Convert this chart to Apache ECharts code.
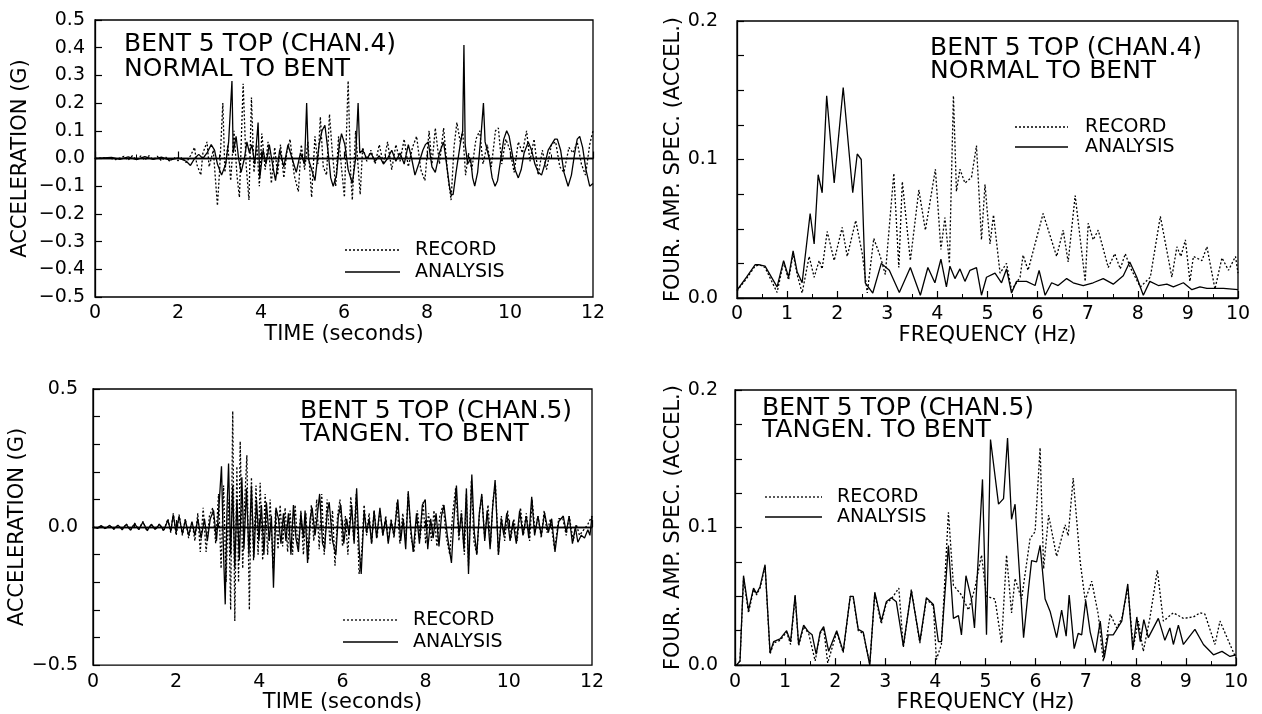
<!DOCTYPE html>
<html>
<head>
<meta charset="utf-8">
<script src="https://cdn.jsdelivr.net/npm/echarts@6/dist/echarts.min.js"></script>
<style>
  html, body { margin: 0; padding: 0; background: #fff; }
  #chart { width: 1262px; height: 714px; }
</style>
</head>
<body>
<div id="chart"></div>
<script>
// [time s, accel g]
var chan4Record = [[0,0],[0.3,0.003],[0.5,-0.004],[0.7,0.008],[0.8,-0.006],[0.9,0.01],[1.0,-0.005],[1.1,0.009],[1.2,-0.006],[1.3,0.01],[1.4,-0.004],[1.5,0.008],[1.6,-0.008],[1.7,0.006],[1.8,-0.01],[1.9,0.004],[2.0,-0.008],[2.1,0.005],[2.2,-0.015],[2.3,0.01],[2.4,0.04],[2.45,-0.02],[2.55,-0.06],[2.6,0.02],[2.7,0.06],[2.75,-0.03],[2.85,0.03],[2.95,-0.17],[3.0,-0.05],[3.08,0.2],[3.13,-0.05],[3.2,0.05],[3.27,-0.08],[3.35,0.1],[3.42,-0.06],[3.48,-0.14],[3.57,0.27],[3.64,-0.02],[3.71,-0.15],[3.77,0.22],[3.83,-0.05],[3.9,0.05],[3.96,-0.1],[4.02,0.09],[4.1,-0.04],[4.17,0.06],[4.25,-0.09],[4.33,0.04],[4.4,-0.06],[4.47,0.05],[4.55,-0.07],[4.62,0.02],[4.7,0.07],[4.8,-0.06],[4.9,-0.12],[4.97,0.05],[5.05,-0.04],[5.13,0.06],[5.22,-0.14],[5.3,0.08],[5.37,-0.02],[5.43,0.15],[5.5,-0.03],[5.58,-0.06],[5.65,0.16],[5.72,0.02],[5.8,-0.1],[5.87,0.08],[5.95,-0.05],[6.01,-0.14],[6.1,0.28],[6.16,-0.05],[6.2,-0.15],[6.28,0.1],[6.35,-0.05],[6.39,-0.13],[6.45,0.04],[6.55,-0.01],[6.65,0.03],[6.75,-0.02],[6.85,0.05],[6.95,-0.02],[7.05,0.06],[7.15,-0.04],[7.25,0.05],[7.35,-0.01],[7.45,0.07],[7.55,-0.03],[7.65,0.04],[7.75,0.08],[7.85,-0.04],[7.95,-0.08],[8.05,0.1],[8.12,-0.02],[8.2,0.11],[8.3,-0.02],[8.4,0.11],[8.5,-0.06],[8.58,-0.15],[8.65,0.04],[8.72,0.13],[8.8,0.06],[8.86,0.1],[8.93,-0.06],[9.0,0.02],[9.08,-0.04],[9.18,0.07],[9.27,0.1],[9.35,-0.02],[9.45,0.05],[9.55,-0.03],[9.65,0.1],[9.72,0.11],[9.8,-0.02],[9.9,0.07],[10.0,0.03],[10.1,-0.05],[10.2,0.06],[10.3,0.02],[10.4,0.1],[10.48,-0.01],[10.58,0.07],[10.68,-0.06],[10.78,0.03],[10.88,-0.04],[11.0,0.05],[11.1,0.06],[11.2,-0.03],[11.3,-0.05],[11.42,0.04],[11.52,0.02],[11.62,0.06],[11.72,-0.02],[11.82,-0.06],[11.92,0.05],[12.0,0.1]];
var chan4Analysis = [[0,0],[0.4,0.004],[0.6,-0.003],[0.8,0.006],[1.0,-0.004],[1.2,0.007],[1.4,-0.003],[1.6,0.005],[1.8,-0.006],[2.0,0.002],[2.2,-0.01],[2.3,-0.025],[2.4,0.0],[2.5,0.015],[2.6,0.0],[2.7,0.02],[2.8,0.05],[2.88,0.03],[2.95,-0.02],[3.05,-0.06],[3.15,-0.02],[3.22,0.06],[3.3,0.28],[3.33,0.02],[3.4,0.08],[3.46,0.0],[3.52,-0.05],[3.6,0.0],[3.66,0.06],[3.72,0.02],[3.78,0.05],[3.85,-0.02],[3.93,0.13],[3.97,-0.07],[4.05,0.03],[4.12,-0.02],[4.2,0.05],[4.3,-0.04],[4.35,-0.08],[4.45,0.03],[4.55,-0.03],[4.65,0.05],[4.75,0.0],[4.85,-0.05],[4.95,0.02],[5.05,-0.02],[5.1,0.2],[5.14,0.0],[5.2,-0.03],[5.3,-0.08],[5.4,0.05],[5.47,0.1],[5.54,0.12],[5.62,0.02],[5.68,-0.07],[5.74,-0.1],[5.82,-0.06],[5.88,0.04],[5.94,0.09],[6.02,0.05],[6.1,-0.04],[6.2,-0.09],[6.28,0.0],[6.34,0.2],[6.38,0.02],[6.45,0.03],[6.55,0.0],[6.65,0.02],[6.75,-0.01],[6.85,0.01],[6.95,-0.02],[7.05,0.0],[7.15,0.03],[7.25,-0.01],[7.35,0.02],[7.45,-0.02],[7.55,0.05],[7.63,0.0],[7.71,-0.06],[7.8,-0.02],[7.9,0.03],[7.96,0.05],[8.03,0.06],[8.12,-0.03],[8.2,-0.05],[8.3,0.02],[8.4,0.06],[8.48,-0.03],[8.54,-0.1],[8.58,-0.13],[8.63,-0.13],[8.7,-0.05],[8.8,0.05],[8.86,0.1],[8.89,0.41],[8.92,0.05],[8.98,-0.02],[9.05,0.0],[9.1,-0.07],[9.15,-0.1],[9.22,-0.05],[9.3,0.08],[9.36,0.2],[9.4,0.06],[9.5,0.0],[9.57,-0.07],[9.64,-0.1],[9.7,-0.08],[9.78,0.0],[9.85,0.07],[9.92,0.1],[9.98,0.08],[10.05,0.02],[10.12,-0.04],[10.2,-0.07],[10.27,-0.04],[10.34,0.02],[10.44,0.06],[10.52,0.03],[10.6,-0.02],[10.68,-0.05],[10.76,-0.06],[10.84,-0.02],[10.92,0.03],[11.0,0.05],[11.08,0.07],[11.14,0.07],[11.22,0.03],[11.3,-0.05],[11.4,-0.1],[11.48,-0.06],[11.56,0.02],[11.62,0.07],[11.68,0.08],[11.75,0.04],[11.83,-0.04],[11.92,-0.1],[12.0,-0.09]];

// [freq Hz, amplitude]
var spec4Record = [[0,0.005],[0.19,0.014],[0.36,0.023],[0.45,0.024],[0.56,0.022],[0.8,0.004],[0.93,0.026],[1.03,0.013],[1.12,0.032],[1.2,0.017],[1.3,0.0036],[1.44,0.03],[1.54,0.015],[1.64,0.027],[1.7,0.021],[1.8,0.048],[1.94,0.027],[2.1,0.051],[2.2,0.03],[2.37,0.056],[2.5,0.032],[2.6,0.0036],[2.73,0.043],[2.86,0.03],[2.96,0.017],[3.13,0.09],[3.23,0.022],[3.3,0.084],[3.46,0.027],[3.63,0.078],[3.76,0.049],[3.96,0.093],[4.07,0.035],[4.15,0.058],[4.24,0.025],[4.32,0.146],[4.38,0.077],[4.45,0.093],[4.55,0.083],[4.68,0.087],[4.78,0.11],[4.88,0.042],[4.95,0.082],[5.05,0.039],[5.12,0.06],[5.25,0.018],[5.38,0.025],[5.48,0.0056],[5.65,0.015],[5.71,0.031],[5.81,0.02],[6.11,0.061],[6.38,0.03],[6.51,0.049],[6.61,0.026],[6.75,0.074],[6.95,0.012],[7.01,0.054],[7.11,0.042],[7.21,0.049],[7.41,0.022],[7.54,0.032],[7.65,0.021],[7.75,0.032],[7.85,0.022],[8.05,0.008],[8.25,0.015],[8.45,0.059],[8.68,0.015],[8.78,0.037],[8.86,0.03],[8.95,0.042],[9.04,0.012],[9.11,0.03],[9.28,0.027],[9.38,0.037],[9.54,0.0065],[9.68,0.029],[9.81,0.02],[9.95,0.03],[10.0,0.018]];
var spec4Analysis = [[0,0.0056],[0.19,0.015],[0.36,0.024],[0.45,0.024],[0.56,0.023],[0.8,0.008],[0.93,0.027],[1.03,0.015],[1.12,0.034],[1.2,0.019],[1.3,0.011],[1.46,0.061],[1.54,0.039],[1.62,0.089],[1.7,0.076],[1.79,0.146],[1.94,0.083],[2.12,0.152],[2.31,0.076],[2.4,0.104],[2.48,0.1],[2.56,0.011],[2.71,0.0036],[2.88,0.025],[3.04,0.02],[3.24,0.004],[3.46,0.022],[3.66,0.002],[3.81,0.022],[3.95,0.011],[4.07,0.028],[4.18,0.008],[4.25,0.023],[4.35,0.014],[4.45,0.021],[4.55,0.012],[4.65,0.02],[4.78,0.022],[4.88,0.002],[4.98,0.015],[5.15,0.018],[5.28,0.011],[5.38,0.021],[5.48,0.0036],[5.58,0.012],[5.78,0.012],[5.95,0.009],[6.03,0.02],[6.15,0.002],[6.28,0.011],[6.41,0.009],[6.58,0.014],[6.71,0.011],[6.91,0.009],[7.11,0.011],[7.31,0.014],[7.51,0.01],[7.71,0.016],[7.84,0.026],[7.98,0.015],[8.11,0.002],[8.24,0.012],[8.41,0.009],[8.58,0.01],[8.71,0.008],[8.91,0.011],[9.08,0.006],[9.24,0.008],[9.38,0.007],[9.71,0.007],[10.0,0.006]];

var chan5Record = [[0,0],[0.1,-0.005],[0.2,0.004],[0.3,-0.006],[0.4,0.005],[0.5,-0.008],[0.6,0.006],[0.7,-0.01],[0.8,0.012],[0.9,-0.012],[1.0,0.014],[1.1,-0.01],[1.2,0.02],[1.3,-0.015],[1.4,0.01],[1.5,-0.01],[1.6,0.012],[1.7,-0.015],[1.8,0.03],[1.87,-0.02],[1.93,0.05],[2.0,-0.03],[2.07,0.045],[2.15,-0.03],[2.22,0.03],[2.3,-0.04],[2.38,0.02],[2.45,-0.05],[2.52,0.05],[2.58,-0.09],[2.65,0.07],[2.72,-0.09],[2.8,0.04],[2.88,0.07],[2.95,-0.06],[3.02,0.12],[3.08,-0.15],[3.14,0.15],[3.2,-0.2],[3.26,0.1],[3.31,-0.3],[3.36,0.42],[3.41,-0.34],[3.46,0.22],[3.5,-0.2],[3.54,0.31],[3.6,-0.15],[3.65,0.1],[3.7,0.26],[3.76,-0.3],[3.81,0.18],[3.86,-0.12],[3.92,0.15],[3.97,-0.1],[4.02,0.16],[4.08,-0.12],[4.14,0.12],[4.2,-0.1],[4.26,0.1],[4.33,-0.15],[4.39,0.06],[4.45,-0.08],[4.5,0.08],[4.56,-0.07],[4.62,0.07],[4.68,-0.09],[4.74,0.06],[4.8,-0.1],[4.86,0.08],[4.93,-0.08],[5.0,0.06],[5.06,-0.1],[5.12,0.05],[5.18,-0.12],[5.25,0.08],[5.31,-0.05],[5.38,0.1],[5.44,-0.08],[5.5,0.12],[5.56,-0.1],[5.63,0.1],[5.7,-0.06],[5.76,0.06],[5.82,-0.14],[5.88,0.04],[5.94,0.1],[6.0,-0.07],[6.07,0.04],[6.13,-0.1],[6.2,0.11],[6.27,-0.05],[6.33,0.12],[6.4,-0.17],[6.46,-0.1],[6.52,0.08],[6.58,-0.03],[6.64,0.05],[6.7,-0.06],[6.76,0.06],[6.83,-0.04],[6.9,0.06],[6.97,-0.03],[7.04,0.04],[7.1,-0.05],[7.17,0.03],[7.24,-0.04],[7.31,0.09],[7.38,-0.06],[7.45,0.05],[7.52,-0.05],[7.58,0.12],[7.65,-0.04],[7.72,-0.09],[7.8,0.06],[7.87,-0.04],[7.94,0.09],[8.0,-0.06],[8.07,0.05],[8.14,-0.05],[8.2,0.06],[8.27,-0.07],[8.34,0.04],[8.42,0.08],[8.5,-0.04],[8.58,-0.1],[8.65,0.05],[8.72,0.14],[8.8,-0.05],[8.86,0.06],[8.93,-0.1],[8.98,0.12],[9.03,-0.14],[9.1,0.17],[9.16,-0.05],[9.23,-0.1],[9.3,0.06],[9.35,0.11],[9.42,-0.04],[9.5,0.08],[9.56,-0.06],[9.62,0.1],[9.68,0.15],[9.75,-0.1],[9.82,0.04],[9.9,-0.05],[9.97,0.06],[10.05,-0.04],[10.12,0.03],[10.2,-0.05],[10.28,0.07],[10.35,-0.03],[10.42,0.05],[10.5,-0.05],[10.56,0.1],[10.63,-0.02],[10.7,0.04],[10.78,-0.04],[10.85,0.06],[10.92,-0.02],[11.0,0.03],[11.1,-0.08],[11.2,0.03],[11.3,0.03],[11.38,-0.03],[11.45,0.04],[11.55,-0.05],[11.62,0.01],[11.7,-0.03],[11.8,-0.01],[11.9,0.01],[12.0,0.04]];
var chan5Analysis = [[0,0],[0.1,-0.004],[0.2,0.005],[0.3,-0.005],[0.4,0.006],[0.5,-0.007],[0.6,0.007],[0.7,-0.009],[0.8,0.01],[0.9,-0.011],[1.0,0.012],[1.1,-0.009],[1.2,0.018],[1.3,-0.012],[1.4,0.01],[1.5,-0.008],[1.6,0.01],[1.7,-0.012],[1.8,0.025],[1.87,-0.015],[1.93,0.045],[2.0,-0.02],[2.07,0.04],[2.15,-0.025],[2.22,0.025],[2.3,-0.03],[2.38,0.02],[2.45,-0.03],[2.52,0.03],[2.6,-0.04],[2.68,0.03],[2.75,-0.05],[2.82,0.03],[2.9,0.06],[2.97,-0.05],[3.04,0.1],[3.09,0.22],[3.14,-0.1],[3.18,-0.28],[3.22,0.05],[3.26,0.23],[3.31,-0.1],[3.36,0.15],[3.41,-0.15],[3.46,0.1],[3.52,-0.12],[3.58,0.18],[3.63,-0.08],[3.69,0.14],[3.75,-0.1],[3.81,0.15],[3.87,-0.11],[3.93,0.1],[3.99,-0.05],[4.05,0.08],[4.11,-0.1],[4.17,0.09],[4.24,-0.05],[4.29,0.04],[4.34,-0.22],[4.4,0.07],[4.46,0.03],[4.52,-0.06],[4.58,0.05],[4.64,-0.05],[4.7,0.05],[4.76,-0.1],[4.82,0.08],[4.88,-0.04],[4.94,-0.09],[5.0,0.05],[5.06,-0.04],[5.1,0.06],[5.16,-0.13],[5.22,0.03],[5.27,0.07],[5.34,-0.03],[5.4,0.05],[5.45,0.12],[5.52,-0.06],[5.57,-0.08],[5.63,0.05],[5.68,0.09],[5.76,-0.05],[5.84,-0.1],[5.9,0.04],[5.96,0.08],[6.03,-0.06],[6.1,0.03],[6.16,-0.03],[6.22,0.08],[6.28,-0.06],[6.34,0.14],[6.4,-0.08],[6.45,-0.17],[6.52,0.06],[6.58,-0.02],[6.64,0.03],[6.7,-0.06],[6.76,0.06],[6.82,-0.04],[6.9,0.07],[6.97,-0.03],[7.04,0.03],[7.1,-0.06],[7.17,0.02],[7.24,-0.03],[7.33,0.1],[7.4,-0.05],[7.46,0.03],[7.52,-0.08],[7.58,0.13],[7.64,0.0],[7.7,-0.09],[7.78,0.05],[7.85,-0.06],[7.92,0.08],[7.99,0.1],[8.05,-0.08],[8.12,0.03],[8.18,-0.04],[8.25,0.05],[8.32,-0.07],[8.38,0.04],[8.44,0.08],[8.52,-0.03],[8.62,-0.13],[8.68,0.03],[8.74,0.15],[8.8,-0.03],[8.86,0.05],[8.92,-0.08],[8.98,0.14],[9.03,-0.17],[9.11,0.19],[9.17,-0.02],[9.23,-0.1],[9.29,0.05],[9.35,0.12],[9.42,-0.05],[9.48,0.06],[9.55,-0.08],[9.61,0.07],[9.67,0.17],[9.75,-0.1],[9.82,0.03],[9.88,-0.03],[9.95,0.05],[10.03,-0.05],[10.1,0.02],[10.18,-0.06],[10.26,0.06],[10.34,-0.03],[10.42,0.04],[10.48,-0.04],[10.55,0.11],[10.62,-0.03],[10.7,0.04],[10.78,-0.03],[10.86,0.05],[10.95,-0.02],[11.03,0.03],[11.11,-0.09],[11.2,0.02],[11.31,0.04],[11.38,-0.02],[11.45,0.04],[11.53,-0.06],[11.6,0.0],[11.66,-0.055],[11.74,-0.03],[11.82,-0.04],[11.9,-0.01],[11.95,-0.03],[12.0,0.04]];

var spec5Record = [[0.03,0],[0.1,0.003],[0.17,0.063],[0.27,0.038],[0.37,0.055],[0.43,0.051],[0.5,0.056],[0.6,0.072],[0.7,0.008],[0.77,0.016],[0.9,0.018],[1.03,0.024],[1.11,0.015],[1.2,0.05],[1.27,0.014],[1.37,0.028],[1.47,0.023],[1.6,0.003],[1.7,0.023],[1.77,0.027],[1.85,0.0015],[2.03,0.024],[2.16,0.009],[2.3,0.05],[2.36,0.049],[2.46,0.025],[2.56,0.023],[2.69,0.001],[2.79,0.052],[2.92,0.03],[3.02,0.045],[3.12,0.048],[3.27,0.056],[3.36,0.013],[3.52,0.055],[3.69,0.016],[3.82,0.048],[3.96,0.043],[4.02,0.004],[4.12,0.015],[4.26,0.111],[4.36,0.058],[4.52,0.051],[4.66,0.04],[4.79,0.056],[4.92,0.08],[5.02,0.05],[5.19,0.048],[5.32,0.016],[5.42,0.08],[5.52,0.038],[5.59,0.063],[5.72,0.048],[5.89,0.092],[5.99,0.097],[6.09,0.158],[6.16,0.07],[6.26,0.109],[6.42,0.079],[6.59,0.102],[6.65,0.094],[6.75,0.136],[6.89,0.075],[6.99,0.047],[7.12,0.061],[7.25,0.037],[7.35,0.0026],[7.49,0.037],[7.62,0.027],[7.72,0.034],[7.84,0.056],[7.95,0.013],[8.05,0.032],[8.15,0.01],[8.28,0.034],[8.43,0.069],[8.55,0.032],[8.75,0.038],[8.95,0.034],[9.15,0.035],[9.28,0.038],[9.38,0.037],[9.58,0.015],[9.68,0.032],[9.88,0.015],[10.0,0.005]];
var spec5Analysis = [[0.03,0],[0.1,0.003],[0.17,0.065],[0.27,0.04],[0.37,0.056],[0.43,0.052],[0.5,0.057],[0.6,0.073],[0.7,0.009],[0.77,0.017],[0.9,0.019],[1.03,0.025],[1.11,0.017],[1.2,0.051],[1.27,0.015],[1.37,0.029],[1.47,0.024],[1.54,0.022],[1.62,0.008],[1.7,0.024],[1.77,0.028],[1.87,0.01],[2.03,0.025],[2.16,0.01],[2.3,0.05],[2.36,0.05],[2.46,0.026],[2.56,0.024],[2.69,0.0],[2.79,0.053],[2.92,0.032],[3.02,0.046],[3.12,0.049],[3.22,0.046],[3.36,0.014],[3.52,0.054],[3.69,0.017],[3.82,0.049],[3.96,0.044],[4.06,0.017],[4.12,0.017],[4.26,0.087],[4.36,0.034],[4.46,0.036],[4.52,0.022],[4.61,0.065],[4.72,0.048],[4.78,0.027],[4.94,0.135],[5.02,0.022],[5.1,0.164],[5.26,0.117],[5.36,0.121],[5.44,0.165],[5.52,0.106],[5.59,0.117],[5.76,0.02],[5.86,0.056],[5.92,0.076],[6.02,0.075],[6.09,0.087],[6.19,0.048],[6.29,0.039],[6.42,0.02],[6.52,0.04],[6.61,0.021],[6.67,0.051],[6.77,0.012],[6.85,0.023],[6.92,0.022],[7.0,0.047],[7.09,0.024],[7.19,0.009],[7.29,0.032],[7.37,0.005],[7.45,0.022],[7.55,0.022],[7.72,0.032],[7.84,0.059],[7.94,0.011],[8.02,0.035],[8.09,0.017],[8.16,0.033],[8.25,0.02],[8.45,0.034],[8.58,0.018],[8.68,0.027],[8.75,0.015],[8.85,0.029],[8.95,0.015],[9.18,0.026],[9.35,0.015],[9.55,0.0075],[9.72,0.01],[9.88,0.0063],[10.0,0.0075]];

var titles = [
    'BENT 5 TOP (CHAN.4)\nNORMAL TO BENT',
    'BENT 5 TOP (CHAN.4)\nNORMAL TO BENT',
    'BENT 5 TOP (CHAN.5)\nTANGEN. TO BENT',
    'BENT 5 TOP (CHAN.5)\nTANGEN. TO BENT'
];
var legendNames = ['RECORD', 'ANALYSIS'];

var FONT = '"DejaVu Sans", "Liberation Sans", sans-serif';
var myChart = echarts.init(document.getElementById('chart'));

function fmt(v) {
    var r = Math.round(v * 10) / 10;
    if (Math.abs(r) < 1e-9) return '0.0';
    return (r < 0 ? '\u2212' : '') + Math.abs(r).toFixed(1);
}

function xAx(idx, max, name, gap) {
    return {
        type: 'value', gridIndex: idx, min: 0, max: max, interval: max == 12 ? 2 : 1,
        name: name, nameLocation: 'middle', nameGap: gap,
        nameTextStyle: { fontFamily: FONT, fontSize: 21, color: '#000' },
        axisLine: { lineStyle: { color: '#000', width: 1.3 } },
        axisTick: { inside: true, length: 7, lineStyle: { color: '#000', width: 1.2 } },
        minorTick: { show: true, splitNumber: 2, length: 4, lineStyle: { color: '#000', width: 1 } },
        axisLabel: { fontFamily: FONT, fontSize: 19, color: '#000', margin: 7,
            formatter: function (v) { return String(Math.round(v)); } },
        splitLine: { show: false }
    };
}

function yAx(idx, min, max, interval, name, gap, margin, labelAt) {
    return {
        type: 'value', gridIndex: idx, min: min, max: max, interval: interval,
        name: name, nameLocation: 'middle', nameGap: gap,
        nameTextStyle: { fontFamily: FONT, fontSize: 21, color: '#000' },
        axisLine: { lineStyle: { color: '#000', width: 1.3 } },
        axisTick: { inside: true, length: 7, lineStyle: { color: '#000', width: 1.2 } },
        axisLabel: { fontFamily: FONT, fontSize: 19, color: '#000', margin: margin,
            formatter: function (v) {
                if (labelAt) {
                    var ok = labelAt.some(function (t) { return Math.abs(t - v) < 1e-6; });
                    if (!ok) return '';
                }
                return fmt(v);
            } },
        splitLine: { show: false }
    };
}

function line(data, idx, dotted, zero) {
    var s = {
        type: 'line', xAxisIndex: idx, yAxisIndex: idx, data: data,
        showSymbol: false, symbol: 'none', silent: true,
        lineStyle: { color: '#000', width: 1.3, type: dotted ? [2, 2] : 'solid' }
    };
    if (zero) {
        s.markLine = { silent: true, symbol: 'none', label: { show: false },
            lineStyle: { color: '#000', width: 1.3, type: 'solid' }, data: [{ yAxis: 0 }] };
    }
    return s;
}

// legend samples + titles drawn as text
var legendPos = [[345, 400, 250, 272, 415], [1015, 1068, 127, 147, 1085],
                 [343, 398, 620, 642, 413], [765, 822, 497, 517, 837]];
var titlePos = [[124, 32, 25], [930, 37, 23], [300, 400, 23], [762, 397, 22]];
var graphics = [];
titlePos.forEach(function (p, i) {
    graphics.push({ type: 'text', x: p[0], y: p[1],
        style: { text: titles[i], fill: '#000', fontFamily: FONT, fontSize: 25, lineHeight: p[2] } });
});
legendPos.forEach(function (p) {
    graphics.push({ type: 'line', shape: { x1: p[0], y1: p[2], x2: p[1], y2: p[2] },
        style: { stroke: '#000', lineWidth: 1.3, lineDash: [2, 2] } });
    graphics.push({ type: 'line', shape: { x1: p[0], y1: p[3], x2: p[1], y2: p[3] },
        style: { stroke: '#000', lineWidth: 1.3 } });
    graphics.push({ type: 'text', x: p[4], y: p[2], style: { text: legendNames[0], fill: '#000',
        fontFamily: FONT, fontSize: 19, verticalAlign: 'middle' } });
    graphics.push({ type: 'text', x: p[4], y: p[3], style: { text: legendNames[1], fill: '#000',
        fontFamily: FONT, fontSize: 19, verticalAlign: 'middle' } });
});

var option = {
    animation: false,
    backgroundColor: '#fff',
    grid: [
        { left: 95, top: 20, width: 498, height: 277, show: true, borderColor: '#000', borderWidth: 1.3 },
        { left: 737, top: 21, width: 501, height: 277, show: true, borderColor: '#000', borderWidth: 1.3 },
        { left: 93, top: 389, width: 499, height: 278, show: true, borderColor: '#000', borderWidth: 1.3 },
        { left: 735, top: 390, width: 501, height: 277, show: true, borderColor: '#000', borderWidth: 1.3 }
    ],
    xAxis: [
        xAx(0, 12, 'TIME (seconds)', 26),
        xAx(1, 10, 'FREQUENCY (Hz)', 27),
        xAx(2, 12, 'TIME (seconds)', 25),
        xAx(3, 10, 'FREQUENCY (Hz)', 23)
    ],
    yAxis: [
        yAx(0, -0.5, 0.5, 0.1, 'ACCELERATION (G)', 64, 10, null),
        yAx(1, 0, 0.2, 0.025, 'FOUR. AMP. SPEC. (ACCEL.)', 51, 19, [0, 0.1, 0.2]),
        yAx(2, -0.5, 0.5, 0.1, 'ACCELERATION (G)', 61, 15, [-0.5, 0, 0.5]),
        yAx(3, 0, 0.2, 0.025, 'FOUR. AMP. SPEC. (ACCEL.)', 51, 17, [0, 0.1, 0.2])
    ],
    series: [
        line(chan4Record, 0, true, false),
        line(chan4Analysis, 0, false, true),
        line(spec4Record, 1, true, false),
        line(spec4Analysis, 1, false, false),
        line(chan5Record, 2, true, false),
        line(chan5Analysis, 2, false, true),
        line(spec5Record, 3, true, false),
        line(spec5Analysis, 3, false, false)
    ],
    graphic: graphics
};

myChart.setOption(option);
</script>
</body>
</html>
